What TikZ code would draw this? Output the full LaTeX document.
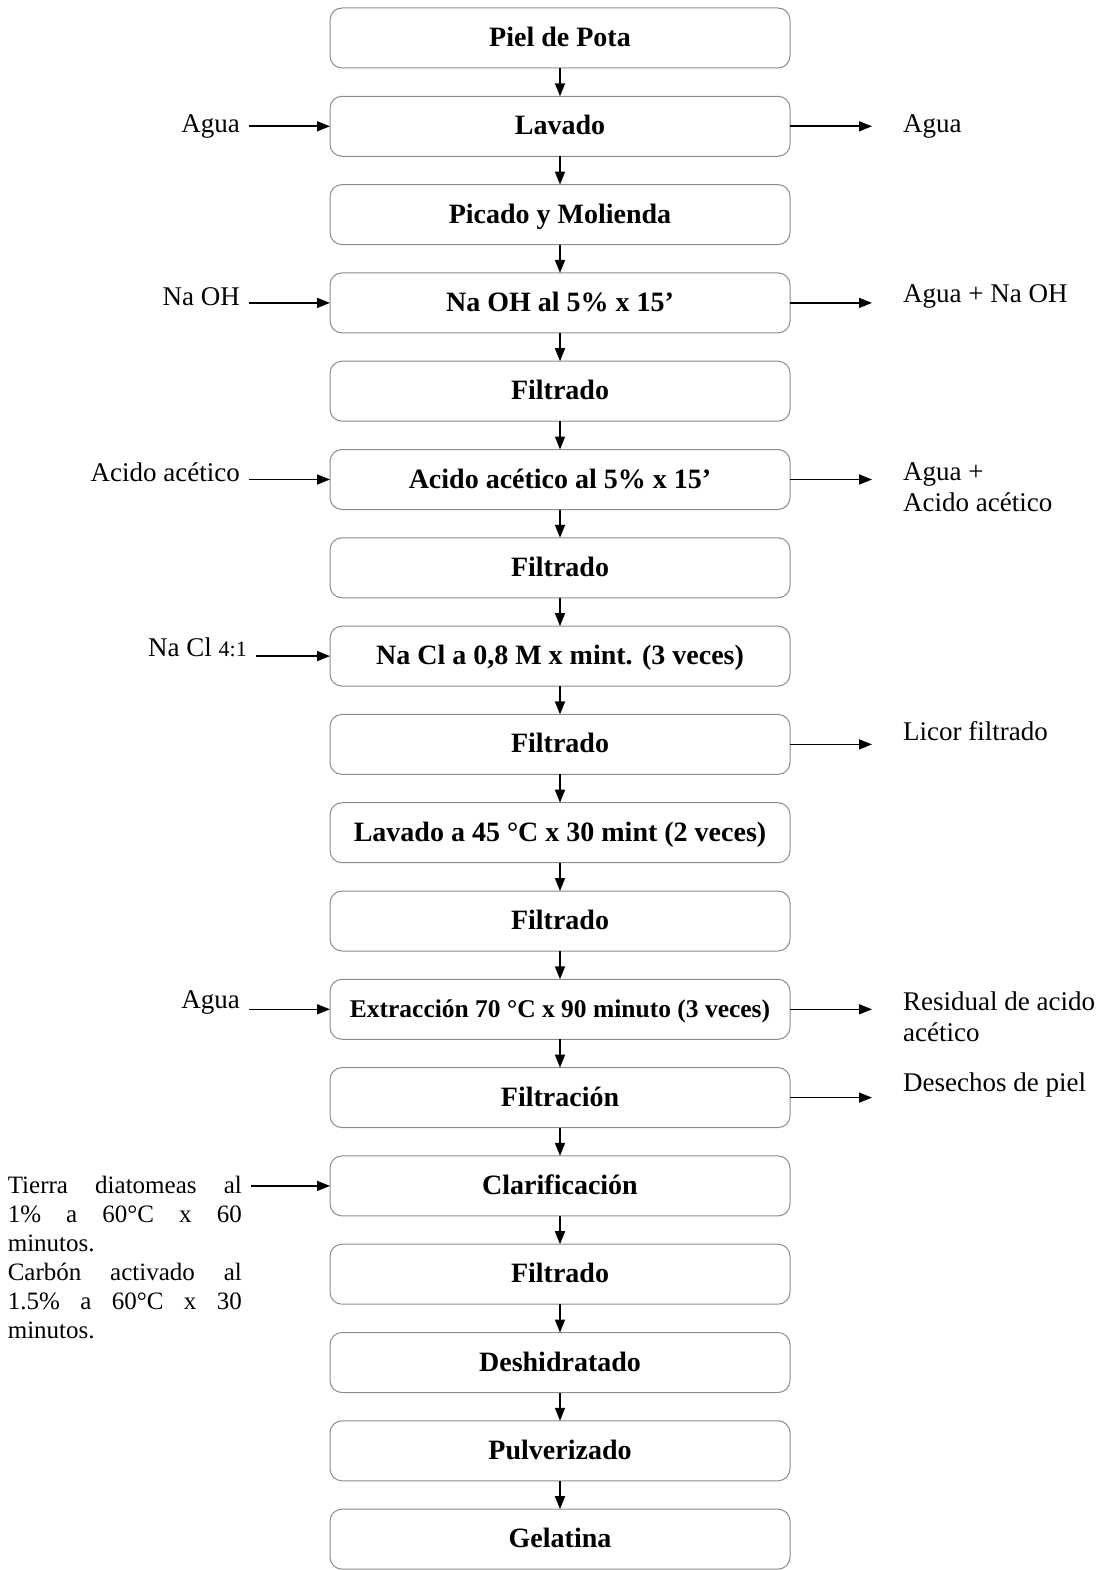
\documentclass[tikz,border=0pt]{standalone}
\usepackage{fontspec}
\setmainfont{Liberation Serif}
\usetikzlibrary{positioning, arrows.meta}
\definecolor{boxline}{HTML}{8C8C8C}
\tikzset{
  proc/.style={
    draw=boxline,
    rounded corners=12pt,
    minimum width=460pt,
    minimum height=60pt,
    outer sep=0pt,
    inner sep=4pt,
    line width=1pt,
    text height=20pt,
    text depth=3pt,
    font=\fontsize{28}{32}\selectfont\bfseries,
  },
  side/.style={font=\fontsize{27}{31}\selectfont, inner sep=5pt, align=left},
  arr/.style={-{Triangle[length=13pt, width=10pt]}, line width=1.6pt},
}

\begin{document}
\begin{tikzpicture}[x=1pt, y=1pt]
\useasboundingbox (0,0) rectangle (1119,-1570);

% Main line
\node[proc] (n01) at (560,-38) {Piel de Pota};
\node[proc, below=28.3pt of n01] (n02) {Lavado};
\node[proc, below=28.3pt of n02] (n03) {Picado y Molienda};
\node[proc, below=28.3pt of n03] (n04) {Na OH al 5\% x 15'};
\node[proc, below=28.3pt of n04] (n05) {Filtrado};
\node[proc, below=28.3pt of n05] (n06) {Acido acético al 5\% x 15'};
\node[proc, below=28.3pt of n06] (n07) {Filtrado};
\node[proc, below=28.3pt of n07] (n08) {Na Cl a 0,8 M x mint. (3 veces)};
\node[proc, below=28.3pt of n08] (n09) {Filtrado};
\node[proc, below=28.3pt of n09] (n10) {Lavado a 45 °C x 30 mint (2 veces)};
\node[proc, below=28.3pt of n10] (n11) {Filtrado};
\node[proc, below=28.3pt of n11, font=\fontsize{25.5}{30}\selectfont\bfseries] (n12) {Extracción 70 °C x 90 minuto (3 veces)};
\node[proc, below=28.3pt of n12] (n13) {Filtración};
\node[proc, below=28.3pt of n13] (n14) {Clarificación};
\node[proc, below=28.3pt of n14] (n15) {Filtrado};
\node[proc, below=28.3pt of n15] (n16) {Deshidratado};
\node[proc, below=28.3pt of n16] (n17) {Pulverizado};
\node[proc, below=28.3pt of n17] (n18) {Gelatina};

\foreach \a/\b in {n01/n02, n02/n03, n03/n04, n04/n05, n05/n06, n06/n07,
                   n07/n08, n08/n09, n09/n10, n10/n11, n11/n12, n12/n13,
                   n13/n14, n14/n15, n15/n16, n16/n17, n17/n18}
  {\draw[arr] (\a.south) -- (\b.north);}

% Inputs (left)
\node[side, left=85pt of n02] (in02) {Agua};
\node[side, left=85pt of n04, yshift=6pt] (in04) {Na OH};
\node[side, left=85pt of n06, yshift=7pt] (in06) {Acido acético};
\node[side, left=78pt of n08, yshift=9pt] (in08) {Na Cl {\fontsize{22}{25}\selectfont 4:1}};
\node[side, left=85pt of n12, yshift=7pt] (in12) {Agua};
\node[side, left=83pt of n14, anchor=north east, yshift=15pt,
      text width=234pt, align=justify, font=\fontsize{25}{29}\selectfont] (in14)
  {Tierra diatomeas al\linebreak 1\% a 60°C x 60\linebreak minutos.\\
   Carbón activado al\linebreak 1.5\% a 60°C x 30\linebreak minutos.};

\foreach \n in {02, 04, 06, 08, 12}
  {\draw[arr, shorten <=4pt] (in\n.east |- n\n.west) -- (n\n.west);}
\draw[arr, shorten <=4pt] (n14.west -| in14.east) -- (n14.west);

% Outputs (right)
\node[side, right=108pt of n02] (out02) {Agua};
\node[side, right=108pt of n04, yshift=6pt] (out04) {Agua + Na OH};
\node[side, right=108pt of n06, anchor=north west, yshift=22pt] (out06) {Agua +\\Acido acético};
\node[side, right=108pt of n09, yshift=13pt] (out09) {Licor filtrado};
\node[side, right=108pt of n12, anchor=north west, yshift=23pt] (out12) {Residual de acido\\acético};
\node[side, right=108pt of n13, yshift=13pt] (out13) {Desechos de piel};

\foreach \n in {02, 04, 06, 09, 12, 13}
  {\draw[arr, shorten >=26pt] (n\n.east) -- (n\n.east -| out\n.west);}

\end{tikzpicture}
\end{document}
